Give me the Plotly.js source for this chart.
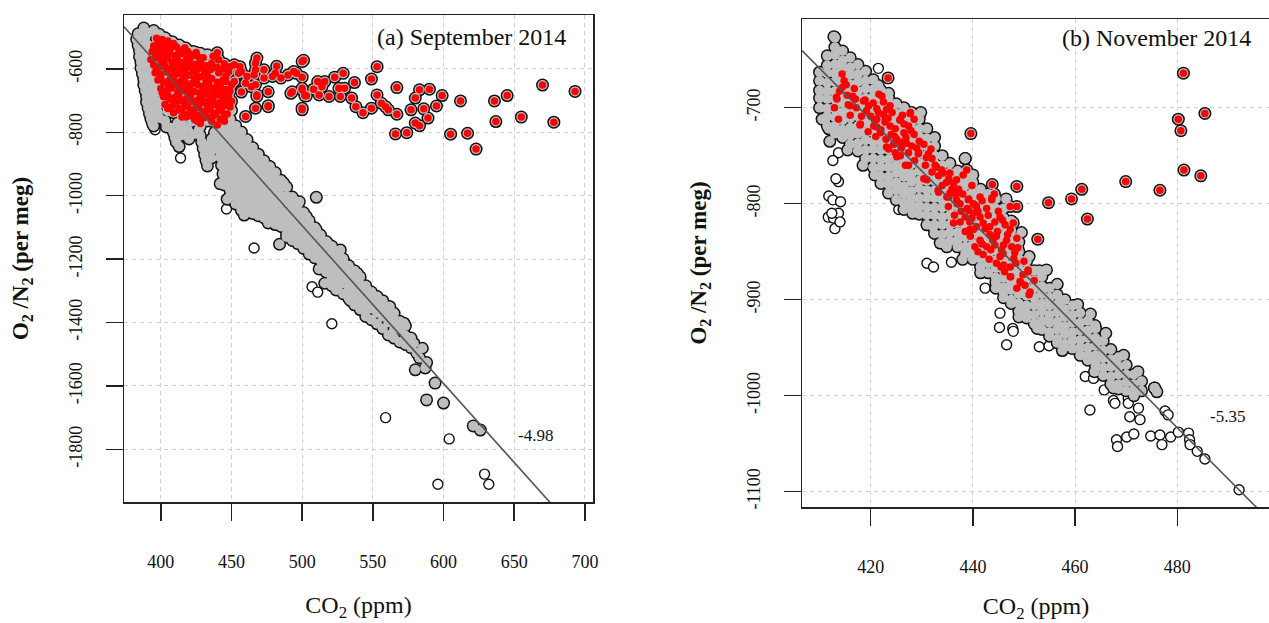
<!DOCTYPE html>
<html><head><meta charset="utf-8">
<script src="https://cdn.plot.ly/plotly-3.0.1.min.js"></script>
<style>html,body{margin:0;padding:0;overflow:hidden;background:#fff}#chart{width:1290px;height:623px}</style>
</head><body><div id="chart"></div>
<script>
// ---------------- Panel (a) September 2014 ----------------
const sepXTicks = [400, 450, 500, 550, 600, 650, 700];
const sepYTicks = [-600, -800, -1000, -1200, -1400, -1600, -1800];
const sepFitSlope = -4.98;
const sepFitIntercept = 1395.5;

// main band of grey points: [CO2, [O2/N2 values...]]
const sepBandCols = [
[445,[-745,-768,-794,-818,-846,-871,-893,-921,-944,-966]],
[449,[-758,-784,-809,-833,-861,-884,-912,-936,-958,-983,-1001]],
[453,[-779,-803,-829,-856,-878,-906,-929,-953,-981,-1004,-1026]],
[457,[-799,-826,-851,-873,-902,-924,-951,-974,-1001,-1023,-1046]],
[461,[-823,-848,-876,-899,-926,-951,-973,-998,-1026,-1051]],
[465,[-848,-877,-901,-924,-952,-976,-1001,-1027,-1056]],
[469,[-869,-894,-921,-946,-968,-996,-1021,-1044,-1063]],
[473,[-890,-916,-939,-966,-991,-1014,-1041,-1069]],
[477,[-909,-931,-957,-981,-1003,-1029,-1053,-1080]],
[481,[-927,-953,-975,-1001,-1023,-1049,-1071,-1091]],
[485,[-951,-974,-1001,-1024,-1051,-1074,-1097]],
[489,[-973,-1001,-1024,-1049,-1076,-1099,-1121]],
[493,[-1004,-1029,-1056,-1079,-1106,-1129,-1141]],
[497,[-1028,-1054,-1081,-1104,-1131,-1151]],
[501,[-1053,-1081,-1104,-1131,-1149,-1166]],
[505,[-1079,-1104,-1131,-1156,-1184]],
[509,[-1101,-1124,-1151,-1174,-1196]],
[513,[-1124,-1151,-1176,-1204]],
[517,[-1144,-1171,-1194,-1221,-1241]],
[521,[-1159,-1186,-1211,-1236,-1259,-1284]],
[525,[-1176,-1199,-1226,-1251,-1274,-1296]],
[529,[-1199,-1226,-1249,-1276,-1309]],
[533,[-1221,-1244,-1271,-1296,-1324]],
[537,[-1237,-1264,-1289,-1314,-1344]],
[541,[-1256,-1281,-1306,-1331,-1359]],
[545,[-1284,-1309,-1336,-1361,-1381]],
[549,[-1304,-1331,-1356,-1391]],
[553,[-1319,-1344,-1369,-1404]],
[557,[-1331,-1356,-1381,-1419]],
[561,[-1349,-1374,-1399,-1439]],
[565,[-1371,-1394,-1421,-1449]],
[569,[-1396,-1421,-1461]],
[573,[-1411,-1441,-1469]],
[577,[-1449,-1479]]
];
// other grey points (fringe, lobes, edge bumps, isolated)
const sepGrayPts = [
[388,-471],[384,-489],[391,-486],[383,-507],[389,-503],[384,-526],[390,-521],[385,-543],[390,-539],[385,-561],[391,-557],[386,-579],[391,-576],[386,-597],[392,-593],[387,-615],[393,-611],[388,-633],[393,-629],[388,-651],[394,-647],[389,-669],[395,-665],[390,-687],[395,-684],[390,-705],[396,-701],[391,-723],[397,-719],[392,-741],[398,-737],[393,-757],[399,-755],[394,-771],[395,-780],
[395,-479],[399,-491],[403,-502],[408,-514],[413,-525],[418,-536],[423,-545],[428,-551],[433,-555],
[398,-529],[405,-544],[412,-559],[401,-580],[410,-589],[420,-574],[430,-581],[440,-589],[401,-621],[415,-624],[428,-614],[440,-626],[401,-659],[412,-671],[425,-656],[437,-661],[447,-651],[402,-699],[415,-706],[428,-694],[440,-701],[448,-689],[405,-734],[418,-741],[430,-729],[442,-736],[450,-731],[403,-764],[412,-771],[422,-766],[433,-764],[444,-771],[404,-783],[416,-780],[428,-781],
[407,-786],[409,-801],[410,-816],[411,-831],[413,-845],[414,-791],[415,-809],[419,-791],[423,-806],[420,-821],[427,-791],[428,-811],[429,-831],[430,-851],[431,-871],[432,-889],[433,-906],[436,-881],[435,-861],[434,-841],[436,-821],[438,-801],[438,-841],[440,-781],[441,-806],[442,-829],[441,-856],[442,-879],[443,-904],[444,-931],[445,-956],
[442,-962],[447,-1011],[459,-1061],[474,-1071],[468,-1050],[476,-1086],[484,-1153],[489,-1130],[512,-1231],[516,-1276],[524,-1297],[534,-1330],
[463,-856],[477,-908],[487,-961],[494,-1013],[503,-1066],[510,-1108],[518,-1150],[527,-1171],[529,-1203],[539,-1245],[546,-1297],[553,-1318],[562,-1350],[572,-1402],[579,-1466],
[581,-1496],[585,-1481],[583,-1511],[580,-1549],[587,-1543],[588,-1526],[594,-1591],[588,-1644],[600,-1654],[621,-1726],[626,-1739],[510,-1005],[498,-1019]
];
// red points (subset, drawn on grey)
const sepRedPts = [
[397,-503],[401,-507],[405,-512],[398,-515],[409,-520],
[395,-528],[399,-532],[403,-526],[407,-535],[411,-530],[415,-540],[419,-545],[394,-545],[398,-550],[402,-555],[406,-548],[410,-558],[414,-552],[418,-560],[422,-555],[426,-560],[430,-565],
[393,-570],[396,-565],[400,-572],[404,-568],[408,-578],[412,-572],[416,-580],[420,-575],[424,-585],[428,-578],[432,-590],[436,-582],[440,-595],[395,-588],[399,-595],[403,-590],[407,-598],[411,-592],[415,-600],[419,-595],[423,-605],[427,-598],[431,-610],[435,-603],[444,-600],[448,-610],
[396,-612],[400,-618],[404,-610],[408,-622],[412,-615],[416,-628],[420,-620],[424,-632],[428,-625],[432,-638],[436,-630],[440,-642],[444,-635],[398,-635],[402,-642],[406,-636],[410,-648],[414,-640],[418,-652],[422,-645],[426,-650],[430,-655],[434,-648],[438,-660],[442,-655],[446,-665],[450,-650],
[400,-662],[404,-670],[408,-660],[412,-675],[416,-668],[420,-680],[424,-672],[428,-685],[432,-678],[436,-690],[440,-682],[444,-692],[448,-685],[402,-688],[406,-695],[410,-690],[414,-700],[418,-695],[422,-702],[426,-698],[430,-705],[434,-700],[438,-712],[442,-706],[446,-715],[450,-702],
[403,-712],[407,-720],[411,-715],[415,-725],[419,-718],[423,-730],[427,-722],[431,-735],[435,-728],[439,-740],[443,-732],[447,-742],[409,-738],[417,-742],[425,-745],
[418,-752],[424,-760],[430,-755],[436,-765],[442,-758],[428,-772],[440,-777],[445,-750],
[399,-518],[403,-540],[407,-522],[413,-546],[417,-533],[421,-563],[425,-548],[397,-557],[401,-582],[405,-560],[409,-603],[413,-585],[417,-610],[421,-588],[425,-615],[429,-592],[433,-622],[437,-596],[441,-612],[446,-623],[397,-600],[400,-628],[405,-650],[409,-632],[413,-657],[417,-640],[421,-665],[425,-640],[429,-670],[433,-662],[437,-675],[441,-667],[445,-680],[449,-670],[401,-675],[405,-682],[409,-705],[413,-688],[417,-710],[421,-690],[425,-712],[429,-693],[433,-718],[437,-700],[441,-722],[445,-700],[449,-720],[405,-725],[413,-730],[421,-735],[429,-745],[437,-748],[421,-748],[433,-752],[445,-765],[426,-765],[415,-752],
[437,-560],[440,-549],[441,-571],[445,-584],[449,-593],[452,-587],[456,-593],[457,-609],[461,-624],[466,-619],[467,-582],[468,-566],[473,-629],[479,-624],[482,-592],[485,-629],[490,-619],[494,-608],[496,-614],[481,-614],[467,-603],[473,-603],[455,-614],[446,-640],[452,-640],[460,-645],[464,-656],[467,-650],[457,-673],[476,-672],[468,-682],[468,-687],[492,-677],[493,-672],[500,-666],[502,-682],[502,-685],[467,-724],[476,-716],[476,-719],[460,-750],[500,-729],[500,-724],[501,-573],[500,-577],[511,-640],[514,-656],[508,-664],[503,-685],[512,-682],[516,-640],[523,-626],[519,-687],[527,-687],[526,-661],[530,-661],[529,-614],[500,-661],[500,-626],[537,-643],[535,-692],[538,-719],[543,-738],[549,-724],[556,-708],[559,-719],[561,-729],[567,-743],[553,-593],[549,-632],[553,-682],[567,-659],[583,-666],[590,-664],[599,-684],[580,-692],[595,-717],[586,-726],[577,-729],[589,-755],[580,-771],[583,-779],[612,-701],[636,-701],[645,-684],[670,-651],[693,-671],[637,-766],[655,-752],[678,-768],[605,-806],[617,-803],[623,-853],[566,-805],[574,-801]
];
// open (excluded) points
const sepOpenPts = [
[396,-792],[414,-881],[446.5,-1042],[466,-1165],[507,-1287],[511,-1304],[521,-1404],[559,-1700],[604,-1767],[629,-1878],[632,-1910],[596,-1910]
];

// ---------------- Panel (b) November 2014 ----------------
const novXTicks = [420, 440, 460, 480];
const novYTicks = [-700, -800, -900, -1000, -1100];
const novFitSlope = -5.35;
const novFitIntercept = 1534.5;

const novBandCols = [
[410.0,[-663,-672,-682,-690,-700]],
[411.5,[-646,-656,-664,-674,-683,-691,-701,-709,-719]],
[413.0,[-627,-637,-645,-655,-664,-673,-683,-691,-701,-710,-719,-727]],
[414.5,[-641,-651,-659,-669,-677,-687,-695,-705,-713,-723,-731]],
[416.0,[-648,-658,-666,-676,-684,-693,-703,-711,-721,-729,-738]],
[417.5,[-655,-665,-673,-683,-691,-701,-709,-719,-727,-737,-745]],
[419.0,[-662,-672,-680,-690,-698,-708,-716,-726,-734,-744,-753]],
[420.5,[-671,-681,-689,-699,-707,-717,-725,-735,-743,-753,-762]],
[422.0,[-682,-690,-700,-708,-718,-726,-736,-744,-754,-762,-772,-779]],
[423.5,[-690,-700,-708,-718,-726,-736,-744,-754,-762,-772,-780,-789]],
[425.0,[-696,-706,-714,-724,-732,-742,-750,-760,-768,-778,-786,-796]],
[426.5,[-700,-710,-718,-728,-736,-746,-754,-764,-772,-782,-790,-799]],
[428.0,[-705,-715,-723,-733,-741,-751,-759,-769,-777,-787,-795,-803]],
[429.5,[-712,-722,-730,-740,-748,-758,-766,-776,-784,-794,-802,-811]],
[431.0,[-722,-732,-740,-750,-758,-768,-776,-786,-794,-804,-812,-822]],
[432.5,[-740,-750,-758,-768,-776,-786,-794,-804,-812,-822,-831]],
[434.0,[-750,-760,-768,-778,-786,-796,-804,-814,-822,-832,-841]],
[435.5,[-758,-768,-776,-786,-794,-804,-812,-822,-830,-839]],
[437.0,[-766,-776,-784,-794,-802,-812,-820,-830,-838,-845]],
[438.5,[-753,-773,-781,-791,-799,-809,-817,-827,-835,-845,-852]],
[440.0,[-778,-788,-796,-806,-814,-824,-832,-842,-850,-858]],
[441.5,[-785,-795,-803,-813,-821,-831,-839,-849,-857,-866]],
[443.0,[-790,-800,-808,-818,-826,-836,-844,-854,-862,-872]],
[444.5,[-795,-805,-813,-823,-831,-841,-849,-859,-867,-877,-882]],
[446.0,[-805,-815,-823,-833,-841,-851,-859,-869,-877,-887,-892]],
[447.5,[-818,-828,-836,-846,-854,-864,-872,-882,-890,-900,-904]],
[449.0,[-840,-850,-858,-868,-876,-886,-894,-904,-912]],
[450.5,[-860,-870,-878,-888,-896,-906,-914,-919]],
[452.0,[-870,-880,-888,-898,-906,-916,-925]],
[453.5,[-876,-886,-894,-904,-912,-922,-931]],
[455.0,[-888,-898,-906,-916,-924,-934,-938]],
[456.5,[-895,-905,-913,-923,-931,-941,-945]],
[458.0,[-900,-910,-918,-928,-936,-946,-949]],
[459.5,[-906,-916,-924,-934,-942,-951]],
[461.0,[-914,-924,-932,-942,-950,-958]],
[462.5,[-922,-932,-940,-950,-958,-963]],
[464.0,[-930,-940,-948,-958,-966,-970]],
[465.5,[-943,-953,-961,-971,-979]],
[467.0,[-952,-962,-970,-980,-988]],
[468.5,[-960,-970,-978,-988,-993]],
[470.0,[-968,-978,-986,-995]],
[471.5,[-978,-988,-996,-1000]],
[473.0,[-985,-995]],
[475.5,[-992]],
[476.0,[-996]]
];
const novGrayPts = [
[412.8,-626],[438.5,-753],[454.4,-869],[457,-902],[463.9,-927],[475.6,-992],[468.1,-966],[432.2,-824],[433.6,-841],[437.5,-830],[411.1,-712],[411.8,-722],[414.4,-729],
[410.5,-712],[412,-735],[415.5,-744],[418.5,-760],[420.8,-770],[428.2,-810],[426.5,-806],[434.9,-845],[438,-858],[441.5,-872],[444.5,-888],[446,-898],[449,-918],[452.6,-930],[457.5,-953],[463.8,-975],[467.5,-992],
[421.5,-677],[423.5,-685],[429.8,-705],[432.5,-731],[440,-770],[446.5,-795],[449.5,-830],[451,-855],[453,-870],[456.5,-884],[460.5,-905],[463,-915],[466,-935],[469.5,-958],[472.3,-975]
];
const novRedPts = [
[414.4,-665],[413.4,-691],[415.4,-687],[414.4,-679],[413.7,-712],[416,-698],[416,-708],[417,-691],[418.6,-693],[419.6,-698],[418,-717],[420.6,-719],[421.2,-701],[422.2,-688],[422.5,-694],[421.9,-726],[422.9,-712],[424.2,-705],[423.8,-719],[424.8,-722],[425.8,-712],[426.5,-726],[425.1,-733],[425.8,-736],[427.8,-705],[427.4,-719],[423.5,-743],[424.8,-747],[425.8,-750],[427.4,-747],[426.8,-760],[429.4,-747],[430.4,-738],[432,-753],[432.6,-760],[430.7,-760],[432,-767],[430.4,-774],[433.3,-771],[434,-781],[435.3,-774],[435.9,-785],[433.3,-788],[435.3,-793],[436.6,-790],[436.9,-800],[439.2,-795],[440.5,-802],[439.2,-807],[441.8,-797],
[421.6,-686],[423.8,-698],[422.5,-707],[421.2,-712],
[413.3,-689],[415.6,-697],[417.9,-718],[418.9,-692],[423.1,-702],[421.2,-720],[425.7,-713],[423.1,-741],[425.1,-734],[427,-737],[425.1,-751],[427.7,-706],[427.4,-760],[429.3,-748],[431.3,-748],[431,-775],[432.9,-762],[433.2,-786],[435.5,-768],[434.9,-793],[436.8,-775],[435.2,-803],[436.8,-796],[438.5,-814],[439.4,-827],[440.1,-800],
[434.2,-768],[436.2,-779],[436.8,-789],[438.1,-770],[438.8,-765],[439.8,-781],[439.1,-796],[441.4,-793],[443.7,-794],[445,-808],[437.5,-800],[437.5,-819],[440.1,-810],[441.4,-814],[442.7,-805],[440.7,-824],[438.5,-829],[440.1,-827],[442,-820],[443.3,-824],[444.3,-819],[445.3,-814],[446.3,-822],[447.3,-827],[443.3,-832],[444.6,-834],[446.6,-838],[441.4,-838],[440.4,-845],[442.7,-845],[444.3,-843],[445.6,-848],[447.6,-845],[448.2,-851],[442,-853],[444.6,-862],[446,-864],[447.3,-866],[445.3,-855],[447.3,-876],[449.2,-881],[450.8,-871],[451.2,-892],[451,-895],[439.4,-819],[440.7,-803],[436.2,-820],[435.5,-789],[449.4,-882],[447.4,-876],[450.8,-869],
[420.5,-695],[421.5,-705],[422.8,-715],[424,-728],[424.5,-738],[426,-742],[423,-733],[421,-730],[426.5,-717],[428.5,-728],[429.5,-735],[428,-740],[426.2,-708],[420,-709],[419.5,-725],[428.5,-712],[414.8,-672],[412.9,-700],[416.8,-680],
[438.9,-805],[441,-808],[443,-812],[445.8,-817],[447.9,-820],[439.8,-815],[442.4,-826],[444.8,-829],[446.8,-832],[448.6,-836],[439.5,-834],[441.8,-842],[443.9,-838],[446,-843],[448.8,-846],[441,-850],[443.5,-848],[445.9,-852],[448,-857],[450,-860],[443.2,-858],[445.5,-866],[448.4,-862],[449.8,-874],[446.2,-871],[448.6,-888],[450.2,-885],[452,-880],[437.7,-808],[436.4,-812],[419.2,-703],[420.8,-713],[422,-723],[423.4,-711],[424.7,-730],[426.9,-731],[427.9,-724],[429,-742],[430.9,-752],[428.6,-755],[431.8,-743],[433.9,-765],[434.8,-778],[437.2,-785],[438,-790],[417.2,-700],[418.2,-709],[416.5,-688],[415.2,-676],[413.9,-683],
[439.6,-727],[423.4,-669],[481.2,-664],[485.4,-706],[480.2,-712],[480.7,-724],[481.3,-765],[484.6,-771],[476.6,-786],[469.9,-777],[461.3,-785],[459.3,-795],[462.4,-816],[454.8,-799],[448.6,-782],[452.7,-837],[447.3,-803],[448.6,-803],[443.8,-780],[443.7,-796],[444.2,-790]
];
const novOpenPts = [
[421.5,-659],[413.7,-747],[412.6,-755],[413.7,-777],[413.2,-774],[411.8,-792],[412.6,-796],[414.1,-798],[411.7,-814],[412.7,-815],[413.7,-810],[413,-826],[414,-819],[412.4,-810],[425.5,-806],[431,-862],[432.3,-866],[435.8,-861],[442.4,-888],[445.3,-914],[445.2,-929],[447.8,-930],[447.9,-933],[446.6,-947],[453,-949],[454.9,-948],[456.4,-945],[462,-980],[463.6,-982],[462.9,-1015],[465.7,-994],[467.5,-1005],[467.8,-1008],[470.4,-1003],[470.4,-1008],[472.4,-1013],[470.7,-1022],[472.7,-1025],[468.1,-1046],[468.3,-1053],[470.1,-1043],[471.5,-1040],[474.8,-1042],[476.6,-1041],[477,-1051],[478.7,-1043],[480.2,-1038],[477.6,-1016],[478.2,-1020],[482.2,-1039],[482.4,-1046],[482.5,-1051],[483.9,-1058],[485.4,-1066],[492.1,-1098]
];

// ---------------- helpers ----------------
function colsToXY(cols){const x=[],y=[];cols.forEach(c=>c[1].forEach(v=>{x.push(c[0]);y.push(v);}));return {x,y};}
function ptsToXY(p){return {x:p.map(d=>d[0]),y:p.map(d=>d[1])};}
function merge(){const x=[],y=[];for(const a of arguments){x.push(...a.x);y.push(...a.y);}return {x,y};}

const W = 1290, H = 623;
const FONT = 'Liberation Serif, Times New Roman, serif';
const GREY = '#bebebe', INK = '#111111';

function panelTraces(band, greyPts, redPts, openPts, slope, intercept, xr, xa, ya){
  const red = ptsToXY(redPts);
  const grey = merge(colsToXY(band), ptsToXY(greyPts), red);
  const open = ptsToXY(openPts);
  return [
    {type:'scatter', mode:'markers', x:open.x, y:open.y, xaxis:xa, yaxis:ya,
     marker:{size:10, color:'#ffffff', line:{color:INK, width:1.4}}, hoverinfo:'skip'},
    {type:'scatter', mode:'markers', x:grey.x, y:grey.y, xaxis:xa, yaxis:ya,
     marker:{size:13, color:INK}, hoverinfo:'skip'},
    {type:'scatter', mode:'markers', x:grey.x, y:grey.y, xaxis:xa, yaxis:ya,
     marker:{size:10, color:GREY}, hoverinfo:'skip'},
    {type:'scatter', mode:'markers', x:red.x, y:red.y, xaxis:xa, yaxis:ya,
     marker:{size:7.5, color:'#ff0000'}, hoverinfo:'skip'},
    {type:'scatter', mode:'lines', x:xr, y:xr.map(v=>intercept+slope*v), xaxis:xa, yaxis:ya,
     line:{color:'#555555', width:1.6}, hoverinfo:'skip'}
  ];
}

const sepXRange = [374, 705.7], sepYRange = [-1966, -430];
const novXRange = [406.56, 498.14], novYRange = [-1116, -607.6];

const traces = [].concat(
  panelTraces(sepBandCols, sepGrayPts, sepRedPts, sepOpenPts, sepFitSlope, sepFitIntercept, sepXRange, 'x', 'y'),
  panelTraces(novBandCols, novGrayPts, novRedPts, novOpenPts, novFitSlope, novFitIntercept, novXRange, 'x2', 'y2')
);

function axisBase(){
  return {ticks:'outside', ticklen:17, tickwidth:1.5, tickcolor:'#222', showline:true, linecolor:'#222',
    linewidth:1.5, mirror:true, showgrid:true, gridcolor:'#cfcfcf', gridwidth:1, griddash:'4px,4px',
    zeroline:false, tickfont:{family:FONT, size:18, color:INK}, fixedrange:true};
}
function xAxis(domain, range, ticks, anchor){
  return Object.assign(axisBase(), {domain, range, tickmode:'array', tickvals:ticks, ticktext:ticks.map(String),
    anchor, ticklabelstandoff:26,
    title:{text:'CO<sub>2</sub> (ppm)', font:{family:FONT, size:24, color:INK}, standoff:25}});
}
function yAxis(domain, range, ticks, anchor){
  return Object.assign(axisBase(), {domain, range, tickmode:'array', tickvals:ticks, ticktext:ticks.map(String),
    anchor, tickangle:-90, ticklabelstandoff:16,
    title:{text:'<b>O<sub>2</sub> /N<sub>2</sub> (per meg)</b>', font:{family:FONT, size:23, color:INK}, standoff:31}});
}

const layout = {
  width:W, height:H, margin:{l:0, r:0, t:0, b:0}, showlegend:false,
  paper_bgcolor:'#ffffff', plot_bgcolor:'#ffffff', font:{family:FONT, color:INK},
  xaxis: xAxis([124/W, 593/W], sepXRange, sepXTicks, 'y'),
  yaxis: yAxis([1-502/H, 1-15/H], sepYRange, sepYTicks, 'x'),
  xaxis2: xAxis([802/W, 1270/W], novXRange, novXTicks, 'y2'),
  yaxis2: yAxis([1-507/H, 1-19/H], novYRange, novYTicks, 'x2'),
  annotations:[
    {xref:'x', yref:'y', x:620, y:-499, text:'(a) September 2014', showarrow:false, font:{family:FONT, size:24, color:INK}},
    {xref:'x', yref:'y', x:665, y:-1755, text:sepFitSlope.toFixed(2), showarrow:false, font:{family:FONT, size:17, color:INK}},
    {xref:'x2', yref:'y2', x:476, y:-627, text:'(b) November 2014', showarrow:false, font:{family:FONT, size:24, color:INK}},
    {xref:'x2', yref:'y2', x:489.8, y:-1022, text:novFitSlope.toFixed(2), showarrow:false, font:{family:FONT, size:17, color:INK}}
  ]
};

Plotly.newPlot('chart', traces, layout, {staticPlot:true, displayModeBar:false});
</script>
</body></html>
